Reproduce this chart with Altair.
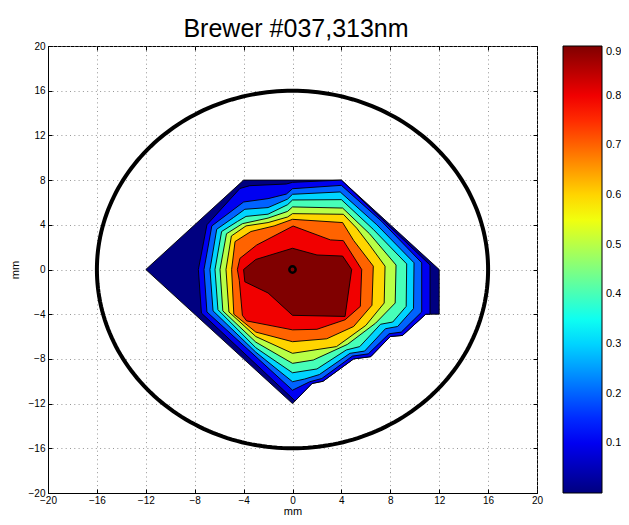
import altair as alt
import numpy as np
import pandas as pd

TITLE = "Brewer #037,313nm"
LEVELS = [0.0, 0.1, 0.2, 0.3, 0.4, 0.5, 0.6, 0.7, 0.8, 0.9]
TICKS = [-20, -16, -12, -8, -4, 0, 4, 8, 12, 16, 20]
CBAR_TICKS = [0.1, 0.2, 0.3, 0.4, 0.5, 0.6, 0.7, 0.8, 0.9]
RING_RADIUS = 16
CENTER = (0, 0)

# contour polygons (mm), outermost level first
C0 = [(-12, 0), (-4, 8), (4, 8), (12, 0), (12, -4), (10.9, -4), (9, -5.9), (8, -6),
      (6.4, -7.8), (5, -8), (2.5, -10), (1.6, -10.2), (0, -12)]
C1 = [(-7.7, 0), (-7.0, 4.0), (-4.3, 7.25), (-3.5, 7.5), (-0.5, 7.65), (0, 7.8), (4, 8),
      (7.6, 4.2), (11.25, 0.4), (11.25, -4), (10.9, -4), (9, -5.9), (8, -6), (6.4, -7.8),
      (5, -8), (2.5, -10), (1.6, -10.2), (0.21, -11.76), (-7.45, -3.9)]
C2 = [(-7.24, 0), (-6.6, 3.9), (-4.0, 6.04), (-2, 6.34), (-0.5, 6.75), (0, 7.23), (4, 7.53),
      (7.3, 4.3), (10.57, 0.6), (10.57, -3.8), (8.9, -5.6), (7.9, -5.75), (6.2, -7.55),
      (4.9, -7.75), (2.4, -9.75), (1.4, -10.05), (0, -10.8), (-7.0, -3.8)]
C3 = [(-6.75, 0), (-6.2, 3.6), (-4.84, 4.64), (-3.9, 5.39), (-2, 5.54), (-0.4, 6.3), (0, 6.73),
      (3.9, 6.94), (6.9, 4.0), (9.94, 0.6), (9.9, -3.5), (8.6, -5.1), (7.6, -5.3), (5.9, -7.3),
      (4.7, -7.5), (2.2, -9.4), (1.0, -9.8), (0, -10.04), (-3, -7.4), (-6.5, -3.7)]
C4 = [(-6.34, 0), (-5.8, 3.4), (-4.5, 4.3), (-3.8, 4.75), (-2, 4.95), (-0.4, 5.8), (0, 6.22),
      (4, 6.25), (6.6, 3.6), (9.34, 0.5), (9.3, -3.3), (8.2, -4.7), (7.2, -4.9), (5.5, -6.9),
      (4.4, -7.2), (2, -8.9), (0, -9.24), (-3, -7.0), (-6.1, -3.6)]
C5 = [(-5.93, 0), (-5.4, 3.2), (-4.1, 4.1), (-2, 4.6), (-0.4, 5.2), (0, 5.6), (4.1, 5.5),
      (6.3, 3.2), (8.47, 0.4), (8.4, -3.0), (6.8, -4.8), (4.5, -6.7), (1.7, -8.1), (0, -8.4),
      (-3, -6.5), (-5.7, -3.7)]
C6 = [(-5.44, 0), (-5.0, 3.0), (-3.8, 3.9), (-2, 4.2), (-0.4, 4.7), (0, 5.0), (4.16, 4.94),
      (5.25, 3.7), (6.3, 2.2), (7.57, 0.3), (7.5, -3.0), (6, -5.0), (3.6, -6.9), (0, -7.5),
      (-3, -6.0), (-5.2, -3.8)]
C7 = [(-4.98, 0), (-4.7, 2.5), (-3.4, 3.4), (-1.5, 3.9), (0, 4.49), (4.1, 4.2), (5.0, 2.6),
      (6.61, 0.3), (6.5, -3.2), (5, -5.1), (2.8, -6.2), (0, -6.46), (-3, -5.6), (-4.8, -4.0)]
C8 = [(-4.51, 0), (-4.3, 1.0), (-2.93, 2.19), (0.05, 3.89), (3.1, 2.65), (4.16, 2.58),
      (5.66, 0), (5.55, -3.3), (4.3, -4.5), (2, -5.35), (0, -5.4), (-3.75, -4.6), (-4.1, -4.1),
      (-4.35, -1)]
C9 = [(-4, 0), (-3, 0.9), (0, 1.9), (2, 1.3), (4.1, 1.2), (4.84, 0), (4.3, -4.2), (0, -4.1),
      (-2, -2.1), (-3.9, -1.1)]
CONTOURS = [C0, C1, C2, C3, C4, C5, C6, C7, C8, C9]

# jet colormap anchors (colour style)
JET_DOMAIN = [0.0, 0.1125, 0.3375, 0.5625, 0.7875, 0.9]
JET_RANGE = ["#000080", "#0000ff", "#00ffff", "#ffff00", "#ff0000", "#800000"]

rows = []
for k, poly in enumerate(CONTOURS):
    pts = list(poly) + [poly[0]]
    for i, (x, y) in enumerate(pts):
        rows.append({"k": k, "lvl": LEVELS[k], "i": i, "x": x, "y": y})
df = pd.DataFrame(rows)

theta = np.linspace(0, 2 * np.pi, 241)
ring = pd.DataFrame({"i": np.arange(len(theta)),
                     "x": CENTER[0] + RING_RADIUS * np.cos(theta),
                     "y": CENTER[1] + RING_RADIUS * np.sin(theta)})
center = pd.DataFrame({"x": [CENTER[0]], "y": [CENTER[1]]})
title_df = pd.DataFrame({"t": [TITLE]})

FONT = "Liberation Sans"


def sc():
    return alt.Scale(domain=[-20, 20], nice=False, zero=False)


xaxis = alt.Axis(values=TICKS, title="mm", grid=True, ticks=False, tickSize=0,
                 labelFlush=False, labelOverlap=False, labelPadding=2,
                 titleY=21.5, titleBaseline="alphabetic")
yaxis = alt.Axis(values=TICKS, title="mm", grid=True, ticks=False, tickSize=0,
                 labelFlush=False, labelOverlap=False, labelPadding=3,
                 titleX=-28, titleY=223.5)
color_scale = alt.Scale(domain=JET_DOMAIN, range=JET_RANGE, interpolate="rgb")
legend = alt.Legend(title=None, orient="right", offset=25, padding=0,
                    gradientLength=447, gradientThickness=39,
                    gradientStrokeColor="black", gradientStrokeWidth=1,
                    values=CBAR_TICKS, format=".1f", labelFontSize=11,
                    labelFont=FONT, labelColor="black", labelOffset=4,
                    labelBaseline="middle", labelOverlap=False, direction="vertical")

base = alt.Chart(df)
layers = []
for k in range(len(CONTOURS)):
    layers.append(
        base.transform_filter(alt.datum.k == k)
        .mark_line(stroke="black", strokeWidth=0.9, strokeJoin="miter")
        .encode(
            x=alt.X("x:Q", scale=sc(), axis=xaxis),
            y=alt.Y("y:Q", scale=sc(), axis=yaxis),
            order=alt.Order("i:Q"),
            fill=alt.Fill("lvl:Q", scale=color_scale, legend=legend),
        )
    )

ring_layer = alt.Chart(ring).mark_line(color="black", strokeWidth=4).encode(
    x=alt.X("x:Q", scale=sc(), axis=xaxis),
    y=alt.Y("y:Q", scale=sc(), axis=yaxis),
    order=alt.Order("i:Q"),
)
center_layer = alt.Chart(center).mark_point(
    shape="circle", filled=False, stroke="black", strokeWidth=2.5, size=40, opacity=1
).encode(
    x=alt.X("x:Q", scale=sc(), axis=xaxis),
    y=alt.Y("y:Q", scale=sc(), axis=yaxis),
)
title_layer = alt.Chart(title_df).mark_text(
    fontSize=25, font=FONT, color="black", align="center", baseline="alphabetic"
).encode(text="t:N", x=alt.value(248), y=alt.value(-9))

main = alt.layer(*layers, ring_layer, center_layer, title_layer)


def tick_axis(orient):
    return alt.Axis(orient=orient, offset=-4, values=TICKS, ticks=True, tickSize=4,
                    tickColor="black", tickWidth=1, labels=False, domain=False,
                    grid=False, title=None)


ticks_a = alt.Chart(center).mark_point(opacity=0).encode(
    x=alt.X("x:Q", scale=sc(), axis=tick_axis("bottom")),
    y=alt.Y("y:Q", scale=sc(), axis=tick_axis("left")),
)
ticks_b = alt.Chart(center).mark_point(opacity=0).encode(
    x=alt.X("x:Q", scale=sc(), axis=tick_axis("top")),
    y=alt.Y("y:Q", scale=sc(), axis=tick_axis("right")),
)

chart = alt.layer(main, ticks_a, ticks_b).resolve_scale(
    x="independent", y="independent"
).properties(
    width=489, height=447,
    autosize="none",
    padding={"left": 40, "top": 38, "right": 84, "bottom": 24},
).configure(font=FONT).configure_view(
    stroke="black", strokeWidth=1
).configure_axis(
    labelFont=FONT, labelFontSize=10, labelColor="black",
    titleFont=FONT, titleFontSize=11, titleFontWeight="normal", titleColor="black",
    domainColor="black", domainWidth=1,
    gridColor="#8a8a8a", gridDash=[1, 3.3], gridWidth=0.9, gridOpacity=1,
)

chart.save("out.html", embed_options={"renderer": "svg", "actions": False})
